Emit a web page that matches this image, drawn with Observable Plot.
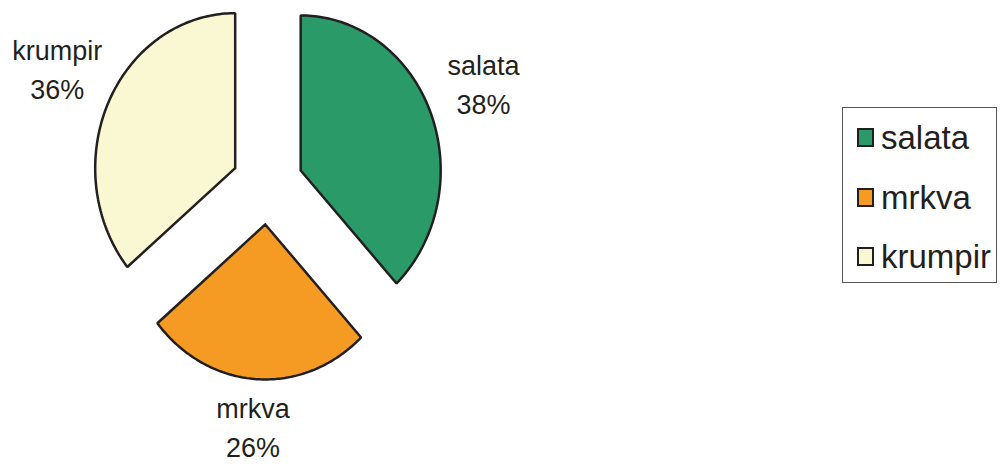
<!DOCTYPE html>
<html>
<head>
<meta charset="utf-8">
<script src="https://cdn.jsdelivr.net/npm/d3@7"></script>
<script src="https://cdn.jsdelivr.net/npm/@observablehq/plot@0.6"></script>
<style>
  html, body { margin: 0; padding: 0; background: #fff; }
  #wrap { position: relative; width: 1002px; height: 465px; font-family: "Liberation Sans", Arial, sans-serif; }
  #legend { position: absolute; left: 842px; top: 107px; width: 155px; height: 176px; border: 1px solid #555; box-sizing: border-box; background: #fff; }
  .item { position: absolute; left: 14px; display: flex; align-items: center; font-size: 33px; color: #231f20; line-height: 1; }
  .sw { width: 17px; height: 19px; border: 2px solid #231f20; margin-right: 7px; box-sizing: border-box; }
</style>
</head>
<body>
<div id="wrap"></div>
<script>
const categories = ["salata", "mrkva", "krumpir"];
const percents = [38, 26, 36];
const colors = ["#2a9b68", "#f59a23", "#faf7d3"];

// layout
const W = 1002, H = 465;
const cx = 267, cy = 184.5, rx = 140, ry = 155;
const explode = 0.255, labelRx = 1.66, labelRy = 1.62;

// build slices (angles clockwise from top)
const total = d3.sum(percents);
let acc = 0;
const slices = categories.map((c, i) => {
  const a0 = acc / total * 2 * Math.PI;
  acc += percents[i];
  const a1 = acc / total * 2 * Math.PI;
  const mid = (a0 + a1) / 2;
  const ox = explode * Math.sin(mid), oy = explode * Math.cos(mid);
  const pts = [{x: ox, y: oy}];
  const n = 120;
  for (let k = 0; k <= n; k++) {
    const a = a0 + (a1 - a0) * k / n;
    pts.push({x: ox + Math.sin(a), y: oy + Math.cos(a)});
  }
  pts.push({x: ox, y: oy});
  return {name: c, pct: percents[i], color: colors[i], pts, mid};
});

const labels = slices.map(s => ({
  x: labelRx * Math.sin(s.mid),
  y: labelRy * Math.cos(s.mid),
  text: s.name + "\n" + s.pct + "%"
}));

const marks = slices.map(s => Plot.line(s.pts, {
  x: "x", y: "y", fill: s.color, stroke: "#231f20", strokeWidth: 2.5,
  strokeLinejoin: "miter", curve: "linear"
}));
marks.push(Plot.text(labels, {
  x: "x", y: "y", text: "text", fontSize: 27, lineHeight: 1.45, dy: -11,
  fill: "#231f20", fontFamily: "Liberation Sans, Arial, sans-serif"
}));

const chart = Plot.plot({
  width: W, height: H, margin: 0,
  x: {domain: [(0 - cx) / rx, (W - cx) / rx], axis: null},
  y: {domain: [(cy - H) / ry, cy / ry], axis: null},
  marks
});
const wrap = document.getElementById("wrap");
wrap.appendChild(chart);

// legend
const legend = document.createElement("div");
legend.id = "legend";
const rowTops = [13, 73, 132];
categories.forEach((c, i) => {
  const it = document.createElement("div");
  it.className = "item";
  it.style.top = rowTops[i] + "px";
  const sw = document.createElement("div");
  sw.className = "sw";
  sw.style.background = colors[i];
  const t = document.createElement("span");
  t.textContent = c;
  it.appendChild(sw); it.appendChild(t);
  legend.appendChild(it);
});
wrap.appendChild(legend);
</script>
</body>
</html>
